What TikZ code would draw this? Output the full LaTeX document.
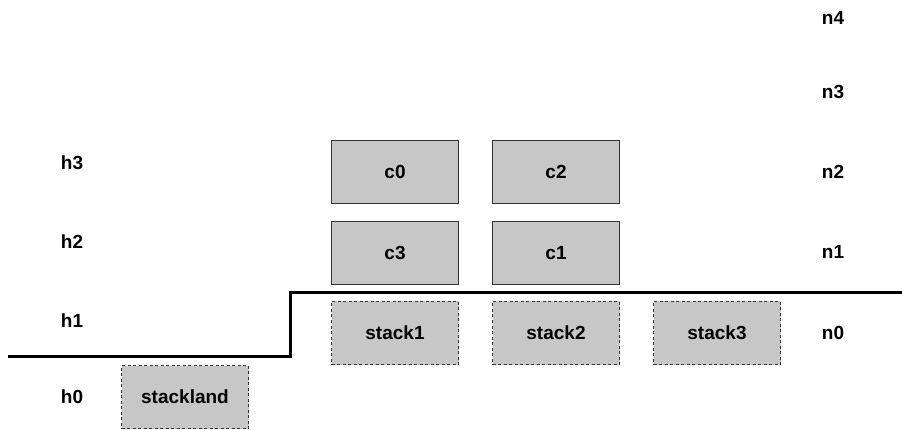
\documentclass[tikz,border=0pt]{standalone}
\usepackage{fontspec}
\setmainfont{Liberation Sans}
\tikzset{
  crate/.style={draw=black!80, fill=black!22, line width=1.5pt, minimum width=127pt, minimum height=63pt, inner sep=0pt, font=\fontsize{19}{22}\selectfont\bfseries},
  pile/.style={crate, dashed, dash pattern=on 3pt off 2.5pt, line width=1.3pt},
  tag/.style={font=\fontsize{19}{22}\selectfont\bfseries}
}
\begin{document}
\begin{tikzpicture}[x=1pt,y=-1pt]
  \useasboundingbox (0,0) rectangle (902,430);
  % height labels
  \node[tag] (h3) at (72,163) {h3};
  \node[tag] (h2) at (72,242) {h2};
  \node[tag] (h1) at (72,321) {h1};
  \node[tag] (h0) at (72,397) {h0};
  % level labels
  \node[tag] (n4) at (833,18) {n4};
  \node[tag] (n3) at (833,92) {n3};
  \node[tag] (n2) at (833,172) {n2};
  \node[tag] (n1) at (833,252) {n1};
  \node[tag] (n0) at (833,333) {n0};
  % crates
  \node[crate] (c0) at (395,172) {c0};
  \node[crate] (c2) at (556,172) {c2};
  \node[crate] (c3) at (395,253) {c3};
  \node[crate] (c1) at (556,253) {c1};
  % stacks
  \node[pile] (stack1) at (395,333) {stack1};
  \node[pile] (stack2) at (556,333) {stack2};
  \node[pile] (stack3) at (717,333) {stack3};
  \node[pile] (stackland) at (185,397) {stackland};
  % ground
  \draw[line width=3pt] (8,356.5) -- (290,356.5) -- (290,293) -- (902,293);
\end{tikzpicture}
\end{document}
